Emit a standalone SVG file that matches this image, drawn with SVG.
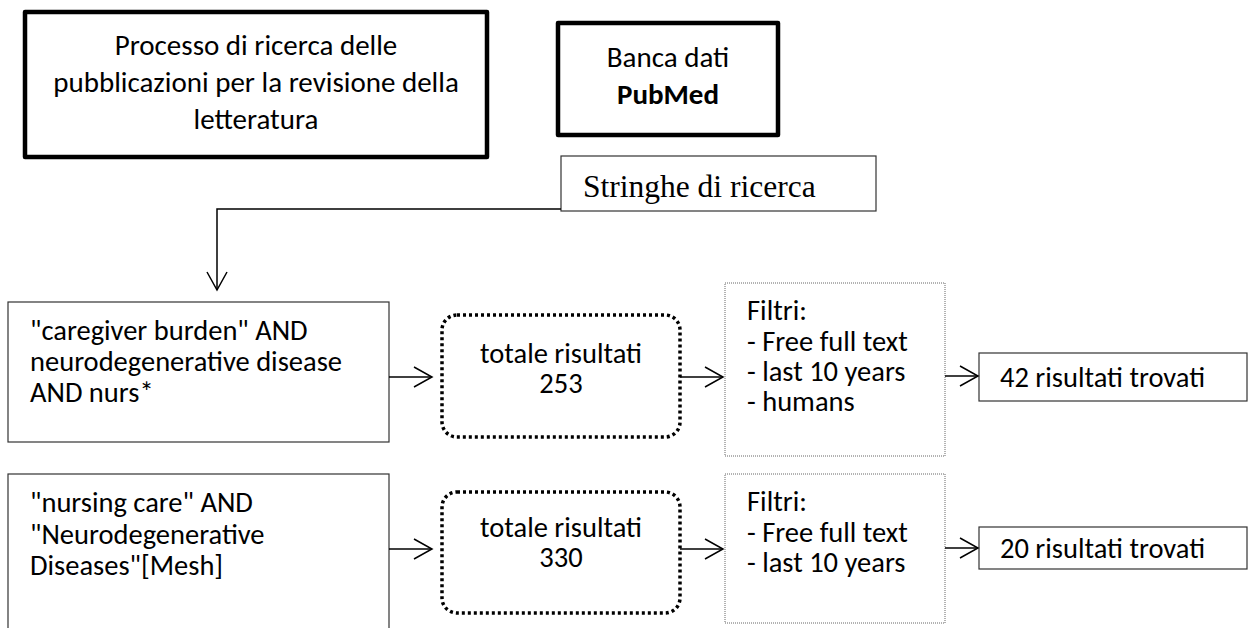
<svg xmlns="http://www.w3.org/2000/svg" width="1253" height="628" viewBox="0 0 1253 628">
<defs>
<marker id="arr" markerUnits="userSpaceOnUse" markerWidth="26" markerHeight="26" viewBox="-22 -13 26 26" refX="0" refY="0" orient="auto">
<path d="M-18,-10 L0,0 L-18,10" fill="none" stroke="#000" stroke-width="1.5"/>
</marker>
<style>
.thick{fill:#fff;stroke:#000;stroke-width:4.5;stroke-linejoin:round}
.thin{fill:#fff;stroke:#333;stroke-width:1.2}
.dots{fill:#fff;stroke:#000;stroke-width:3.5;stroke-dasharray:3 3}
.fine{fill:#fff;stroke:#666;stroke-width:1;stroke-dasharray:1 1}
.t{font-family:Carlito,Lato,"Liberation Sans",sans-serif;font-size:28.5px;fill:#000}
.tt{font-family:Carlito,Lato,"Liberation Sans",sans-serif;font-size:29px;fill:#000}
.c{text-anchor:middle}
.serif{font-family:"Liberation Serif",serif;font-size:31.5px;fill:#000}
.ln{fill:none;stroke:#000;stroke-width:1.5}
</style>
</defs>
<g id="title">
<rect class="thick" x="25" y="12" width="462" height="145"/>
<text class="tt c" x="256" y="55">Processo di ricerca delle</text>
<text class="tt c" x="256" y="92">pubblicazioni per la revisione della</text>
<text class="tt c" x="256" y="129">letteratura</text>
</g>
<g id="banca">
<rect class="thick" x="558" y="23" width="220" height="112"/>
<text class="tt c" x="668" y="67">Banca dati</text>
<text class="tt c" x="668" y="104" font-weight="bold">PubMed</text>
</g>
<g id="stringhe">
<rect class="thin" x="561" y="156" width="315" height="55"/>
<text class="serif" x="583" y="197">Stringhe di ricerca</text>
</g>
<g id="query1">
<rect class="thin" x="8" y="302" width="381" height="140"/>
<text class="t" x="30" y="340">"caregiver burden" AND</text>
<text class="t" x="30" y="371">neurodegenerative disease</text>
<text class="t" x="30" y="402">AND nurs*</text>
</g>
<g id="totale1">
<rect class="dots" x="442" y="315" width="238" height="122" rx="15"/>
<text class="t c" x="561" y="363">totale risultati</text>
<text class="t c" x="561" y="393">253</text>
</g>
<g id="filtri1">
<rect class="fine" x="725" y="283" width="220" height="173"/>
<text class="t" x="747" y="320">Filtri:</text>
<text class="t" x="747" y="351">- Free full text</text>
<text class="t" x="747" y="381">- last 10 years</text>
<text class="t" x="747" y="411">- humans</text>
</g>
<g id="risultati42">
<rect class="thin" x="979" y="353" width="268" height="48"/>
<text class="t" x="1000" y="387">42 risultati trovati</text>
</g>
<g id="query2">
<rect class="thin" x="8" y="474" width="381" height="170"/>
<text class="t" x="30" y="512">"nursing care" AND</text>
<text class="t" x="30" y="544">"Neurodegenerative</text>
<text class="t" x="30" y="575">Diseases"[Mesh]</text>
</g>
<g id="totale2">
<rect class="dots" x="442" y="492" width="238" height="121" rx="15"/>
<text class="t c" x="561" y="537">totale risultati</text>
<text class="t c" x="561" y="567">330</text>
</g>
<g id="filtri2">
<rect class="fine" x="725" y="474" width="220" height="149"/>
<text class="t" x="747" y="511">Filtri:</text>
<text class="t" x="747" y="542">- Free full text</text>
<text class="t" x="747" y="572">- last 10 years</text>
</g>
<g id="risultati20">
<rect class="thin" x="979" y="527" width="268" height="42"/>
<text class="t" x="1000" y="558">20 risultati trovati</text>
</g>
<g id="connectors">
<polyline class="ln" points="561,209 217,209 217,290" marker-end="url(#arr)"/>
<line class="ln" x1="389" y1="377" x2="432" y2="377" marker-end="url(#arr)"/>
<line class="ln" x1="680" y1="377" x2="723" y2="377" marker-end="url(#arr)"/>
<line class="ln" x1="945" y1="376" x2="978" y2="376" marker-end="url(#arr)"/>
<line class="ln" x1="389" y1="549" x2="432" y2="549" marker-end="url(#arr)"/>
<line class="ln" x1="680" y1="549" x2="723" y2="549" marker-end="url(#arr)"/>
<line class="ln" x1="945" y1="548" x2="978" y2="548" marker-end="url(#arr)"/>
</g>
</svg>
